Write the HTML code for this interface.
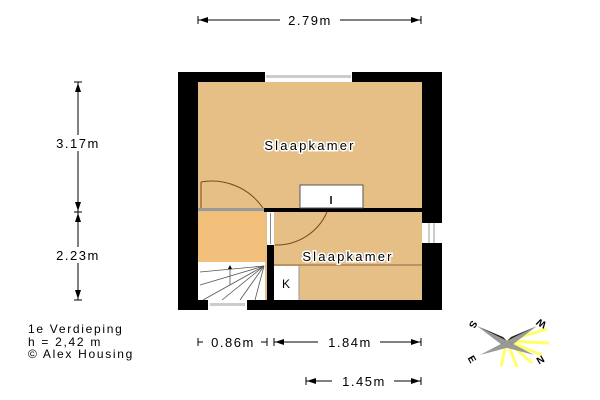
<!DOCTYPE html>
<html><head><style>body{margin:0;background:#fff}svg{display:block}text{font-family:"Liberation Sans",sans-serif}</style></head><body>
<svg width="600" height="400" viewBox="0 0 600 400" xmlns="http://www.w3.org/2000/svg">
<!-- walls -->
<rect x="178" y="72" width="264" height="238" fill="#000"/>
<rect x="198" y="82" width="224" height="218" fill="#e6bf87"/>
<rect x="198" y="212" width="67" height="50" fill="#f2c07a"/>
<rect x="265" y="72" width="87" height="10" fill="#fff"/>
<rect x="266" y="75" width="85" height="3" fill="#ccc"/>
<rect x="208" y="300" width="39" height="10" fill="#fff"/>
<rect x="210" y="303" width="35" height="3" fill="#ccc"/>
<rect x="422" y="223" width="20" height="20" fill="#fff"/>
<line x1="429" y1="223" x2="429" y2="243" stroke="#999"/><line x1="434" y1="223" x2="434" y2="243" stroke="#999"/>
<rect x="264" y="208" width="158" height="4" fill="#000"/>
<rect x="198" y="208" width="66" height="3" fill="#999"/>
<rect x="267" y="212" width="7" height="88" fill="#000"/>
<rect x="267" y="212" width="7" height="33" fill="#fff"/>
<line x1="270.5" y1="213" x2="270.5" y2="244" stroke="#888"/>
<path d="M201,182 A62,62 0 0 1 263,208" fill="none" stroke="#7a4a1a" stroke-width="1"/>
<line x1="201" y1="182" x2="201" y2="208" stroke="#7a4a1a"/>
<path d="M275,245 A55,55 0 0 0 327,212" fill="none" stroke="#7a4a1a" stroke-width="1"/>
<rect x="300" y="185" width="63" height="23" fill="#fff" stroke="#555"/>
<rect x="330" y="196" width="2" height="8" fill="#444"/>
<line x1="274" y1="265" x2="422" y2="265" stroke="#8a6a40"/>
<rect x="274" y="266" width="25" height="34" fill="#fff"/>
<line x1="299" y1="266" x2="299" y2="300" stroke="#999"/>
<text x="286" y="288" font-size="12" text-anchor="middle">K</text>
<rect x="198" y="262" width="67" height="38" fill="#fff"/>
<g stroke="#555" stroke-width="0.8">
<line x1="264" y1="266" x2="200" y2="272"/><line x1="264" y1="266" x2="200" y2="285"/><line x1="264" y1="266" x2="203" y2="300"/><line x1="264" y1="266" x2="222" y2="300"/><line x1="264" y1="266" x2="240" y2="300"/><line x1="264" y1="266" x2="255" y2="300"/>
<line x1="230" y1="268" x2="230" y2="285"/></g>
<path d="M228,269L230,265L232,269z" fill="#000"/>
<text x="310" y="150" font-size="13" letter-spacing="2.2" text-anchor="middle" stroke="#fff" stroke-width="3" paint-order="stroke">Slaapkamer</text>
<text x="348" y="261" font-size="13" letter-spacing="2.2" text-anchor="middle" stroke="#fff" stroke-width="3" paint-order="stroke">Slaapkamer</text>
<g stroke="#000" stroke-width="1" fill="none">
<line x1="198" y1="20" x2="421" y2="20"/><line x1="198" y1="16" x2="198" y2="24"/><line x1="421" y1="16" x2="421" y2="24"/>
<line x1="78" y1="82" x2="78" y2="300"/><line x1="74" y1="82" x2="82" y2="82"/><line x1="74" y1="212" x2="82" y2="212"/><line x1="74" y1="300" x2="82" y2="300"/>
<line x1="198" y1="342" x2="267" y2="342"/><line x1="198" y1="338" x2="198" y2="346"/><line x1="267" y1="338" x2="267" y2="346"/>
<line x1="274" y1="342" x2="421" y2="342"/><line x1="274" y1="338" x2="274" y2="346"/><line x1="421" y1="338" x2="421" y2="346"/>
<line x1="306" y1="381" x2="421" y2="381"/><line x1="306" y1="377" x2="306" y2="385"/><line x1="421" y1="377" x2="421" y2="385"/>
</g>
<g fill="#000"><path d="M199,20l9,-3v6z"/><path d="M420,20l-9,-3v6z"/><path d="M78,83l-3,9h6z"/><path d="M78,211l-3,-9h6z"/><path d="M78,213l-3,9h6z"/><path d="M78,299l-3,-9h6z"/>
<path d="M275,342l9,-3v6z"/><path d="M420,342l-9,-3v6z"/><path d="M307,381l9,-3v6z"/><path d="M420,381l-9,-3v6z"/></g>
<g font-size="13" letter-spacing="1.5" text-anchor="middle">
<rect x="280" y="12" width="60" height="16" fill="#fff"/><text x="310" y="25">2.79m</text>
<rect x="48" y="135" width="60" height="16" fill="#fff"/><text x="78" y="148">3.17m</text>
<rect x="48" y="247" width="60" height="16" fill="#fff"/><text x="78" y="260">2.23m</text>
<rect x="203" y="334" width="58" height="16" fill="#fff"/><text x="233" y="347">0.86m</text>
<rect x="318" y="334" width="62" height="16" fill="#fff"/><text x="350" y="347">1.84m</text>
<rect x="332" y="373" width="62" height="16" fill="#fff"/><text x="364" y="386">1.45m</text>
</g>
<g font-size="12" letter-spacing="1.7"><text x="28" y="333">1e Verdieping</text><text x="28" y="346">h = 2,42 m</text><text x="28" y="358">© Alex Housing</text></g>
<g transform="translate(507,341)">
<g stroke="#ffff40" stroke-width="3" opacity="0.8"><line x1="0" y1="0" x2="40" y2="-12"/><line x1="0" y1="0" x2="42" y2="2"/><line x1="0" y1="0" x2="35" y2="14"/><line x1="0" y1="0" x2="10" y2="26"/><line x1="0" y1="0" x2="-6" y2="25"/><line x1="0" y1="0" x2="25" y2="22"/></g>
<path d="M-30,-15L-4,-4L0,0z" fill="#222"/><path d="M-30,-15L0,0L-5,4z" fill="#999"/>
<path d="M30,-15L4,-4L0,0z" fill="#222"/><path d="M30,-15L0,0L5,4z" fill="#999"/>
<path d="M-27,14L-5,3L0,0z" fill="#222"/><path d="M-27,14L0,0L3,6z" fill="#999"/>
<path d="M27,14L5,3L0,0z" fill="#222"/><path d="M27,14L0,0L-3,6z" fill="#999"/>
<g font-size="10" font-weight="bold"><text x="-37" y="-14" transform="rotate(120 -34 -17)">S</text><text x="33" y="-14" transform="rotate(-150 36 -17)">W</text><text x="-39" y="22" transform="rotate(60 -35 19)">E</text><text x="30" y="22" transform="rotate(-30 34 19)">N</text></g>
</g>
</svg>
</body></html>
